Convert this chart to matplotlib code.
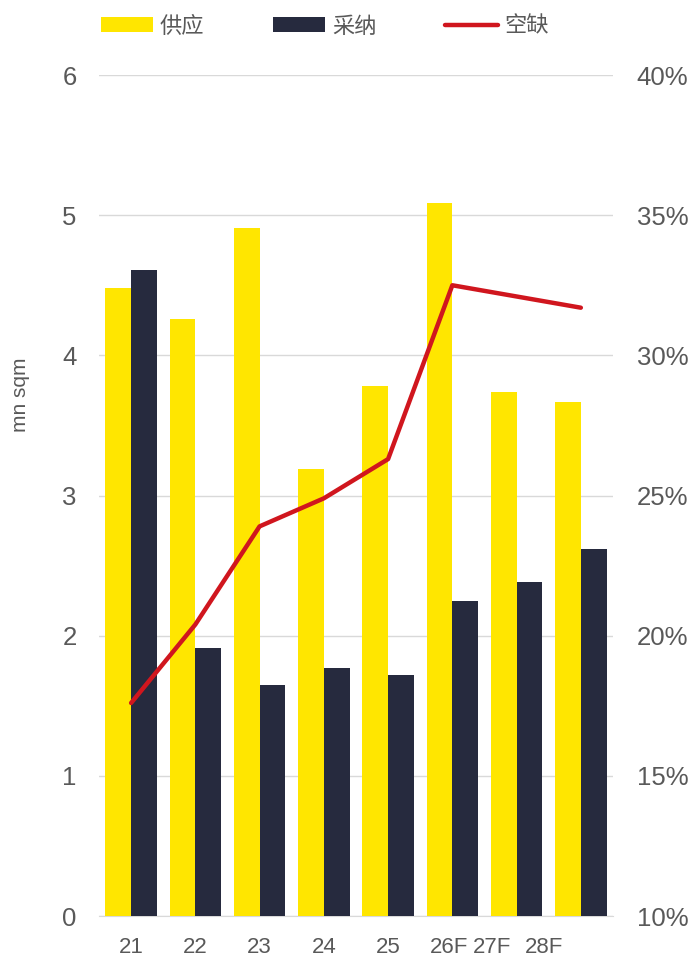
import matplotlib.pyplot as plt
import matplotlib.transforms as mtransforms
import numpy as np

plt.rcParams['font.family'] = ['Liberation Sans', 'Noto Sans CJK SC']

years = ["21", "22", "23", "24", "25", "26F", "27F", "28F"]
supply = [4.48, 4.26, 4.91, 3.19, 3.78, 5.09, 3.74, 3.67]  # mn sqm
absorption = [4.61, 1.91, 1.65, 1.77, 1.72, 2.25, 2.38, 2.62]  # mn sqm
vacancy = [17.6, 20.4, 23.9, 24.9, 26.3, 32.5, 32.1, 31.7]  # percent

yellow = "#FFE600"
navy = "#262A3E"
red = "#D0161E"
grey = "#595959"

fig = plt.figure(figsize=(6.96, 9.58), dpi=100)
ax = fig.add_axes([0.1422, 0.0438, 0.7385, 0.8779])
ax2 = ax.twinx()

x = np.arange(len(years))
w = 0.4
b1 = ax.bar(x - w / 2, supply, w, color=yellow, label="供应", zorder=3)
b2 = ax.bar(x + w / 2, absorption, w, color=navy, label="采纳", zorder=3)
l1, = ax2.plot(x, vacancy, color=red, lw=3.2, label="空缺", solid_capstyle="round")

ax.set_xlim(-0.5, 7.5)
ax.set_ylim(0, 6)
ax2.set_ylim(10, 40)
ax.set_yticks(range(0, 7))
ax2.set_yticks(range(10, 41, 5))
ax2.set_yticklabels([f"{v}%" for v in range(10, 41, 5)])
ax.grid(axis="y", color="#D9D9D9", lw=1, zorder=0)
ax.set_axisbelow(True)

for a in (ax, ax2):
    for s in a.spines.values():
        s.set_visible(False)
    a.tick_params(length=0, labelsize=18.5, colors=grey)
ax.spines["bottom"].set_visible(True)
ax.spines["bottom"].set_color("#D9D9D9")
ax.tick_params(axis="y", pad=16)
ax2.tick_params(axis="y", pad=17)

ax.set_xticks(x)
ax.set_xticklabels(years)
ax.tick_params(axis="x", pad=15, labelsize=16)
# the last labels sit left of their bars in the original
shifts = [0, 0, 0, 0, 0, -3, -25, -37]
for lab, dx in zip(ax.get_xticklabels(), shifts):
    lab.set_transform(lab.get_transform() + mtransforms.ScaledTranslation(dx / 100, 0, fig.dpi_scale_trans))

ax.set_ylabel("mn sqm", fontsize=15, color=grey)
ax.yaxis.set_label_coords(-0.134, 0.62)

fig.legend(handles=[b1, b2, l1], loc="upper left", bbox_to_anchor=(0.132, 0.992), ncol=3,
           frameon=False, fontsize=16, labelcolor=grey, handlelength=2.35, handleheight=0.65,
           columnspacing=3.1, handletextpad=0.3, borderaxespad=0)

fig.savefig("out.png", dpi=100)
